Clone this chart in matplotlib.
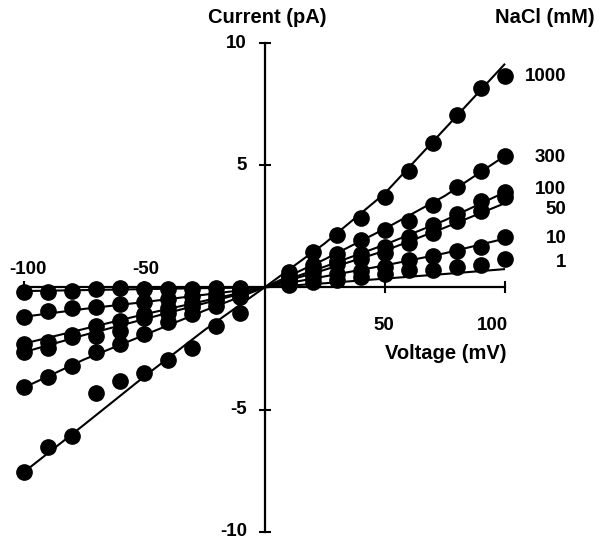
import matplotlib
matplotlib.use("Agg")
import matplotlib.pyplot as plt

# Holding potentials (mV) at which current was sampled
voltage = [-100, -90, -80, -70, -60, -50, -40, -30, -20, -10,
           10, 20, 30, 40, 50, 60, 70, 80, 90, 100]

# Measured single-channel currents (pA) for each NaCl concentration (mM)
current_1 = [-0.18, -0.20, -0.14, -0.07, -0.04, -0.08, -0.05, -0.05, -0.03, -0.02,
             0.10, 0.22, 0.30, 0.42, 0.55, 0.70, 0.72, 0.85, 0.90, 1.17]
current_10 = [-1.20, -0.97, -0.83, -0.79, -0.70, -0.59, -0.48, -0.36, -0.25, -0.12,
              0.25, 0.42, 0.55, 0.68, 0.85, 1.12, 1.30, 1.49, 1.67, 2.08]
current_50 = [-2.30, -2.23, -1.96, -1.60, -1.36, -1.07, -0.85, -0.65, -0.42, -0.20,
              0.30, 0.62, 0.95, 1.15, 1.40, 1.81, 2.22, 2.70, 3.11, 3.72]
current_100 = [-2.65, -2.50, -2.05, -1.97, -1.77, -1.27, -1.05, -0.80, -0.55, -0.30,
               0.35, 0.75, 1.10, 1.35, 1.67, 2.08, 2.56, 3.00, 3.52, 3.90]
current_300 = [-4.08, -3.67, -3.23, -2.64, -2.30, -1.89, -1.41, -1.10, -0.75, -0.40,
               0.45, 0.92, 1.35, 1.94, 2.35, 2.72, 3.38, 4.13, 4.75, 5.39]
current_1000 = [-7.57, -6.54, -6.10, -4.31, -3.85, -3.49, -2.98, -2.48, -1.57, -1.03,
                0.62, 1.45, 2.15, 2.86, 3.70, 4.78, 5.91, 7.08, 8.17, 8.65]

# Fitted I-V relations, sampled along the voltage range
fit_voltage = [-100, -75, -50, -25, 0, 25, 50, 75, 100]
fit_1 = [-0.15, -0.11, -0.07, -0.03, 0.0, 0.17, 0.36, 0.55, 0.75]
fit_10 = [-1.20, -0.88, -0.60, -0.30, 0.0, 0.45, 0.90, 1.40, 2.00]
fit_50 = [-2.30, -1.70, -1.10, -0.55, 0.0, 0.72, 1.50, 2.45, 3.45]
fit_100 = [-2.65, -1.95, -1.30, -0.65, 0.0, 0.85, 1.75, 2.75, 3.90]
fit_300 = [-4.10, -2.95, -1.95, -0.95, 0.0, 1.15, 2.40, 3.75, 5.39]
fit_1000 = [-7.56, -5.62, -3.65, -1.75, 0.0, 1.80, 3.85, 6.50, 9.16]

concentrations = ["1", "10", "50", "100", "300", "1000"]
currents = [current_1, current_10, current_50, current_100, current_300, current_1000]
fits = [fit_1, fit_10, fit_50, fit_100, fit_300, fit_1000]

x_ticks = [-100, -50, 50, 100]
y_ticks = [-10, -5, 5, 10]

plt.rcParams["font.family"] = ["Liberation Sans", "DejaVu Sans"]
plt.rcParams["font.weight"] = "bold"
FS = 13.5
FS_TITLE = 14.5

fig = plt.figure(figsize=(6.01, 5.46), dpi=100)
ax = fig.add_axes([0, 0, 1, 1])
ax.set_xlim(-110.0, 139.9)
ax.set_ylim(-10.59, 11.77)

for cur, fit in zip(currents, fits):
    ax.plot(fit_voltage, fit, color="black", lw=1.5, zorder=2, solid_capstyle="butt")
    ax.plot(voltage, cur, linestyle="none", marker="o", markersize=11,
            color="black", zorder=3)

# Axes crossing at the origin
for side in ("top", "right"):
    ax.spines[side].set_visible(False)
ax.spines["left"].set_position(("data", 0))
ax.spines["bottom"].set_position(("data", 0))
ax.spines["left"].set_bounds(-10, 10)
ax.spines["bottom"].set_bounds(-100, 100)
ax.spines["left"].set_linewidth(1.6)
ax.spines["bottom"].set_linewidth(1.6)
ax.set_xticks(x_ticks)
ax.set_yticks(y_ticks)
ax.tick_params(axis="both", direction="inout", length=9, width=1.5,
               labelleft=False, labelbottom=False)
ax.patch.set_visible(False)

# Tick labels
for yv in y_ticks:
    ax.text(-7.3, yv, str(yv), ha="right", va="center", fontsize=FS, fontweight="bold")
ax.text(-98.5, 0.72, "-100", ha="center", va="center", fontsize=FS, fontweight="bold")
ax.text(-49.3, 0.72, "-50", ha="center", va="center", fontsize=FS, fontweight="bold")
ax.text(49.7, -1.54, "50", ha="center", va="center", fontsize=FS, fontweight="bold")
ax.text(94.6, -1.54, "100", ha="center", va="center", fontsize=FS, fontweight="bold")

# Axis titles
ax.text(1.0, 11.04, "Current (pA)", ha="center", va="center", fontsize=FS_TITLE, fontweight="bold")
ax.text(75.5, -2.72, "Voltage (mV)", ha="center", va="center", fontsize=FS_TITLE, fontweight="bold")
ax.text(116.6, 11.04, "NaCl (mM)", ha="center", va="center", fontsize=FS_TITLE, fontweight="bold")

# Concentration labels beside each curve
label_y = [1.0, 1.99, 3.21, 3.99, 5.30, 8.62]
for name, yv in zip(concentrations, label_y):
    ax.text(125.4, yv, name, ha="right", va="center", fontsize=FS, fontweight="bold")

fig.savefig("out.png", dpi=100, facecolor="white")
